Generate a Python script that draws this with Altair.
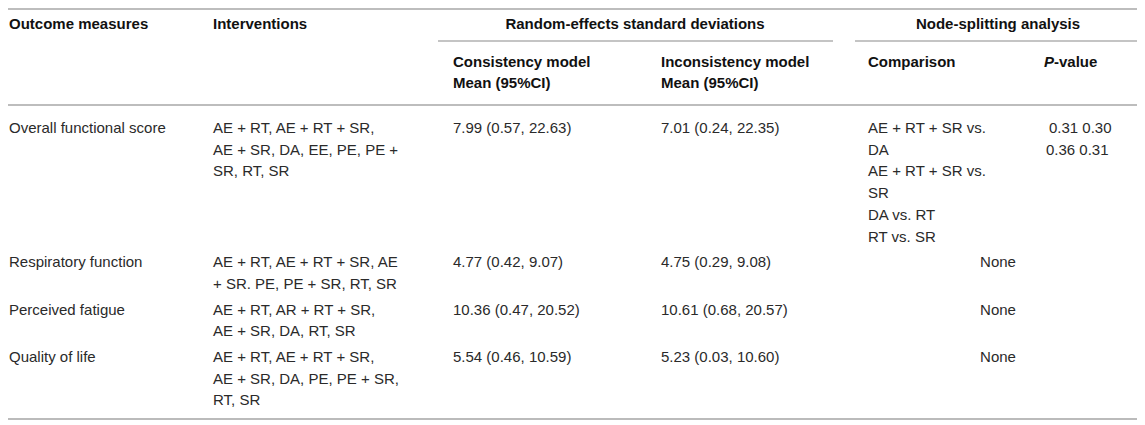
import altair as alt
import pandas as pd

# ---------------- data (table contents) ----------------
outcomes = ["Overall functional score", "Respiratory function",
            "Perceived fatigue", "Quality of life"]
interventions = [
    ["AE + RT, AE + RT + SR,", "AE + SR, DA, EE, PE, PE +", "SR, RT, SR"],
    ["AE + RT, AE + RT + SR, AE", "+ SR. PE, PE + SR, RT, SR"],
    ["AE + RT, AR + RT + SR,", "AE + SR, DA, RT, SR"],
    ["AE + RT, AE + RT + SR,", "AE + SR, DA, PE, PE + SR,", "RT, SR"],
]
consistency = ["7.99 (0.57, 22.63)", "4.77 (0.42, 9.07)",
               "10.36 (0.47, 20.52)", "5.54 (0.46, 10.59)"]
inconsistency = ["7.01 (0.24, 22.35)", "4.75 (0.29, 9.08)",
                 "10.61 (0.68, 20.57)", "5.23 (0.03, 10.60)"]
comparisons = [
    ["AE + RT + SR vs.", "DA", "AE + RT + SR vs.", "SR", "DA vs. RT", "RT vs. SR"],
    None, None, None,
]
p_values = [["0.31 0.30", "0.36 0.31"], [], [], []]
none_label = "None"

group_headers = ["Random-effects standard deviations", "Node-splitting analysis"]
col_headers = ["Outcome measures", "Interventions"]
sub_headers = [["Consistency model", "Mean (95%CI)"],
               ["Inconsistency model", "Mean (95%CI)"],
               ["Comparison"]]
p_header = ("P", "-value")

# ---------------- layout ----------------
FONT = "Liberation Sans"
FS = 15
LH = 21.7
ROW_GAP = 4
X0, Y0 = 8, 8
W, H = 1129, 412
FIRST_ROW = 128

cx = [9, 213, 453, 661, 868, 1046]
p_line_offsets = [3, 0]
group_centers = [635, 998]

body_left, body_center = [], []
top = FIRST_ROW
for i in range(len(outcomes)):
    cells = [(cx[0], [outcomes[i]]), (cx[1], interventions[i]),
             (cx[2], [consistency[i]]), (cx[3], [inconsistency[i]])]
    nlines = 1
    for x, lines in cells:
        for j, t in enumerate(lines):
            body_left.append(dict(x=x, y=top + j * LH, text=t))
        nlines = max(nlines, len(lines))
    if comparisons[i] is None:
        body_center.append(dict(x=group_centers[1], y=top, text=none_label))
    else:
        for j, t in enumerate(comparisons[i]):
            body_left.append(dict(x=cx[4], y=top + j * LH, text=t))
        nlines = max(nlines, len(comparisons[i]))
        for j, t in enumerate(p_values[i]):
            body_left.append(dict(x=cx[5] + p_line_offsets[j], y=top + j * LH, text=t))
    top += nlines * LH + ROW_GAP

HY1, HY2, HY3 = 24, 62, 83
head_left = [dict(x=cx[0], y=HY1, text=col_headers[0]),
             dict(x=cx[1], y=HY1, text=col_headers[1])]
for k, lines in enumerate(sub_headers):
    for j, t in enumerate(lines):
        head_left.append(dict(x=cx[2 + k], y=[HY2, HY3][j], text=t))
head_left.append(dict(x=cx[5] + 8, y=HY2, text=p_header[1]))
head_center = [dict(x=group_centers[k], y=HY1, text=t) for k, t in enumerate(group_headers)]
head_italic = [dict(x=cx[5] - 2, y=HY2, text=p_header[0])]

rules = pd.DataFrame([
    dict(x=3, x2=1140, y=9, c="#bdbdbd", w=2),
    dict(x=438, x2=833, y=41, c="#c4c4c4", w=2),
    dict(x=855, x2=1140, y=41, c="#c4c4c4", w=2),
    dict(x=3, x2=1140, y=105, c="#bdbdbd", w=2),
    dict(x=3, x2=1140, y=419, c="#a5a5a5", w=1.5),
])

xs = alt.Scale(domain=[X0, X0 + W], nice=False, zero=False)
ys = alt.Scale(domain=[Y0, Y0 + H], nice=False, zero=False, reverse=True)
X = alt.X("x:Q", scale=xs, axis=None)
Y = alt.Y("y:Q", scale=ys, axis=None)


def text_layer(rows, align, weight, color, style="normal"):
    return alt.Chart(pd.DataFrame(rows)).mark_text(
        align=align, baseline="middle", font=FONT, fontSize=FS,
        fontWeight=weight, fontStyle=style, color=color,
    ).encode(x=X, y=Y, text="text:N")


rule_layers = []
for c, w in [("#bdbdbd", 2), ("#c4c4c4", 2), ("#a5a5a5", 1.5)]:
    sub = rules[(rules.c == c) & (rules.w == w)]
    rule_layers.append(
        alt.Chart(sub).mark_rule(color=c, strokeWidth=w).encode(
            x=X, x2="x2:Q", y=Y)
    )

chart = alt.layer(
    *rule_layers,
    text_layer(body_left, "left", "normal", "#2a2a2a"),
    text_layer(body_center, "center", "normal", "#2a2a2a"),
    text_layer(head_left, "left", "bold", "#111111"),
    text_layer(head_center, "center", "bold", "#111111"),
    text_layer(head_italic, "left", "bold", "#111111", "italic"),
).properties(
    width=W, height=H, padding=0,
    autosize=alt.AutoSizeParams(type="none"),
).configure_view(stroke=None)

chart.save("out.html", embed_options={"renderer": "svg", "actions": False})
